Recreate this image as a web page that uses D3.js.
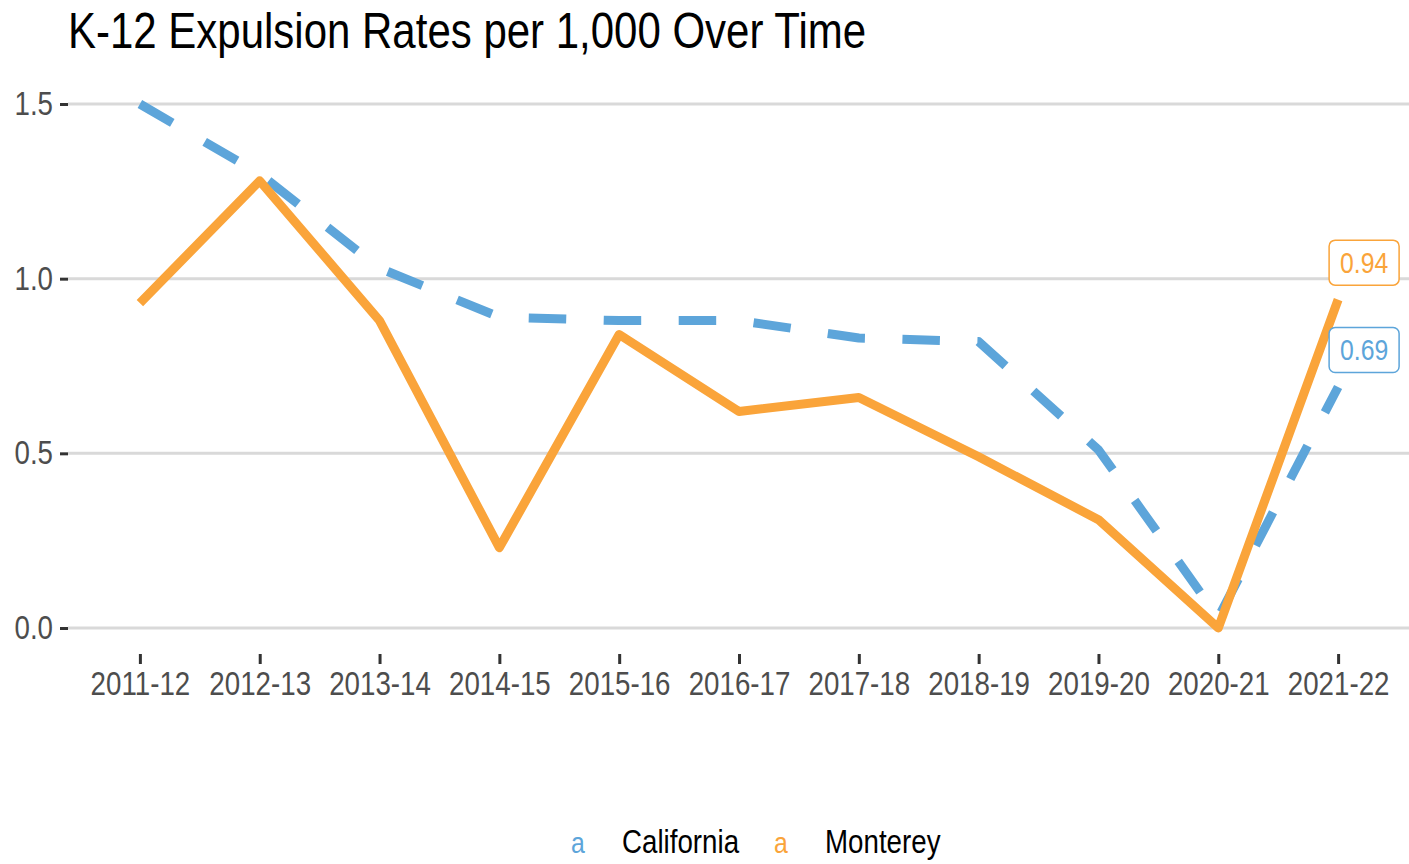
<!DOCTYPE html>
<html>
<head>
<meta charset="utf-8">
<script src="https://cdn.jsdelivr.net/npm/d3@7"></script>
<style>
  html, body { margin: 0; padding: 0; background: #fff; }
  svg { display: block; }
  text { font-family: "Liberation Sans", Arial, sans-serif; }
</style>
</head>
<body>
<svg id="chart" width="1409" height="864"></svg>
<script>
const title = "K-12 Expulsion Rates per 1,000 Over Time";
const categories = ["2011-12","2012-13","2013-14","2014-15","2015-16","2016-17","2017-18","2018-19","2019-20","2020-21","2021-22"];
const california = [1.50, 1.30, 1.03, 0.89, 0.88, 0.88, 0.83, 0.82, 0.51, 0.03, 0.69];
const monterey   = [0.93, 1.28, 0.88, 0.23, 0.84, 0.62, 0.66, 0.49, 0.31, 0.00, 0.94];
const yTicks = [0, 0.5, 1.0, 1.5];
const seriesNames = ["California", "Monterey"];
const seriesColors = ["#5DA5DA", "#FAA43A"];

const W = 1409, H = 864;
const SX = 0.84; // horizontal condensing of the text
const panel = {left: 68, right: 1410, top: 76, bottom: 654};

const svg = d3.select("#chart");
svg.append("rect").attr("width", W).attr("height", H).attr("fill", "#fff");

const x = d3.scalePoint().domain(categories).range([panel.left, panel.right]).padding(0.6);
const y = d3.scaleLinear().domain([0, 1.5]).range([628, 104]);

function ctext(parent, px, py, str, opts) {
  const t = parent.append("text")
    .attr("transform", `translate(${px},${py}) scale(${SX},1)`)
    .attr("font-size", opts.size)
    .attr("fill", opts.fill)
    .attr("text-anchor", opts.anchor || "start")
    .text(str);
  if (opts.dy) t.attr("dy", opts.dy);
  return t;
}

// title
ctext(svg, 68, 48, title, {size: 50, fill: "#000"});

// grid
svg.append("g").selectAll("line").data(yTicks).join("line")
  .attr("x1", panel.left).attr("x2", W)
  .attr("y1", d => y(d)).attr("y2", d => y(d))
  .attr("stroke", "#D9D9D9").attr("stroke-width", 3);

// y axis
const yAxis = svg.append("g").attr("transform", `translate(${panel.left},0)`)
  .call(d3.axisLeft(y).tickValues(yTicks).tickFormat(d3.format(".1f")).tickSize(8).tickPadding(6));
yAxis.select(".domain").remove();
yAxis.selectAll(".tick line").attr("stroke", "#333").attr("stroke-width", 3);
yAxis.selectAll(".tick text")
  .attr("x", null)
  .attr("transform", `translate(-15,0) scale(${SX},1)`)
  .attr("font-size", 33).attr("fill", "#4D4D4D")
  .attr("font-family", '"Liberation Sans", Arial, sans-serif');

// x axis
const xAxis = svg.append("g").attr("transform", `translate(0,${panel.bottom})`)
  .call(d3.axisBottom(x).tickSize(10).tickPadding(8));
xAxis.select(".domain").remove();
xAxis.selectAll(".tick line").attr("stroke", "#333").attr("stroke-width", 3);
xAxis.selectAll(".tick text")
  .attr("y", null)
  .attr("transform", `translate(0,18) scale(${SX},1)`)
  .attr("font-size", 33).attr("fill", "#4D4D4D")
  .attr("font-family", '"Liberation Sans", Arial, sans-serif');

// lines
const line = d3.line().x((d, i) => x(categories[i])).y(d => y(d));
svg.append("path").datum(california)
  .attr("d", line).attr("fill", "none")
  .attr("stroke", seriesColors[0]).attr("stroke-width", 9)
  .attr("stroke-dasharray", "37.5,37.5").attr("stroke-linejoin", "round");
svg.append("path").datum(monterey)
  .attr("d", line).attr("fill", "none")
  .attr("stroke", seriesColors[1]).attr("stroke-width", 9)
  .attr("stroke-linejoin", "round");

// end labels
const last = categories.length - 1;
const endLabels = [
  {v: monterey[last], c: seriesColors[1]},
  {v: california[last], c: seriesColors[0]}
];
endLabels.forEach(l => {
  const cx = x(categories[last]) + 26;
  const cy = y(l.v) - 37;
  const g = svg.append("g");
  g.append("rect")
    .attr("x", cx - 35).attr("y", cy - 22.5)
    .attr("width", 70).attr("height", 45)
    .attr("rx", 6).attr("ry", 6)
    .attr("fill", "#fff").attr("stroke", l.c).attr("stroke-width", 1.5);
  ctext(g, cx, cy + 10.5, d3.format(".2f")(l.v), {size: 29.5, fill: l.c, anchor: "middle"});
});

// legend
const legendItems = [
  {name: seriesNames[0], c: seriesColors[0], kx: 578, tx: 622},
  {name: seriesNames[1], c: seriesColors[1], kx: 781, tx: 825}
];
legendItems.forEach(it => {
  ctext(svg, it.kx, 853, "a", {size: 29.5, fill: it.c, anchor: "middle"});
  ctext(svg, it.tx, 853, it.name, {size: 33, fill: "#000"});
});
</script>
</body>
</html>
